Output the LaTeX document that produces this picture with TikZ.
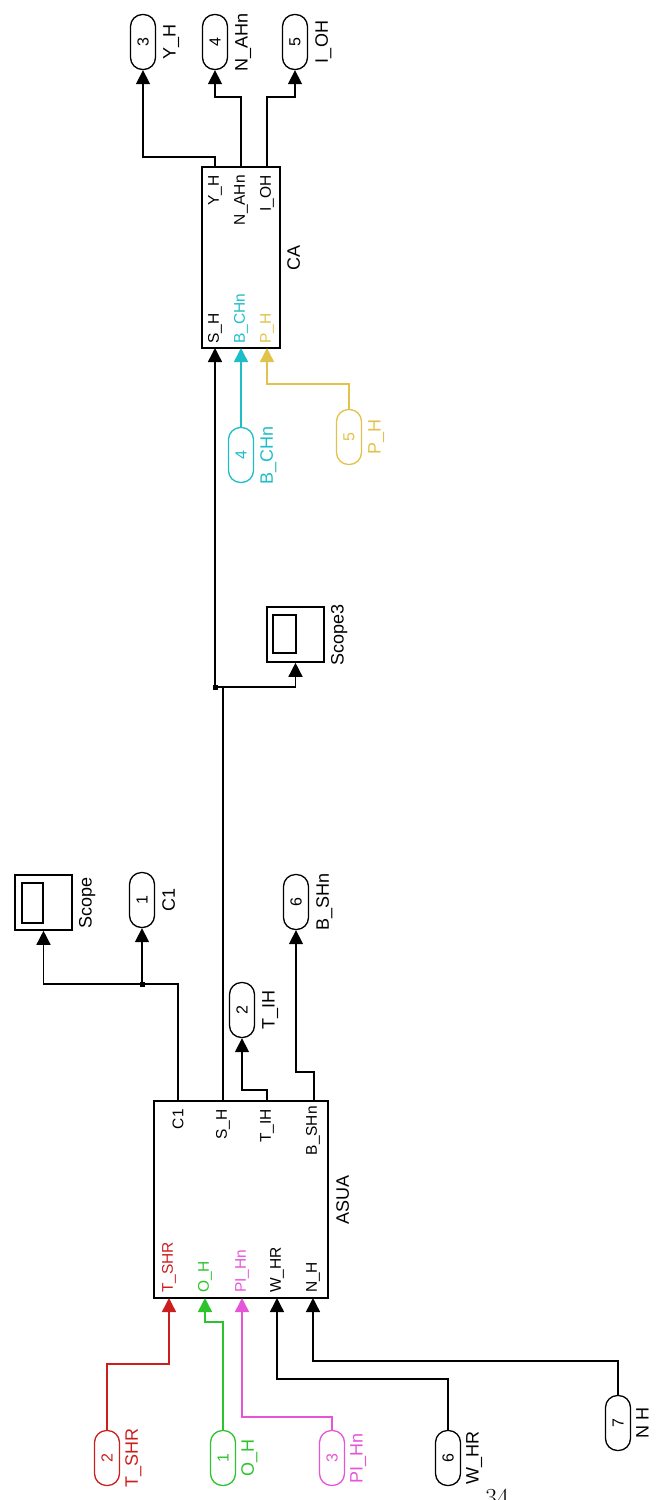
\documentclass[tikz,border=0pt]{standalone}
\usepackage{fontspec}
\newfontfamily\arial{Liberation Sans}
\usetikzlibrary{arrows.meta}
\definecolor{cred}{RGB}{205,30,30}
\definecolor{cgreen}{RGB}{45,195,45}
\definecolor{cmag}{RGB}{230,85,215}
\definecolor{ccyan}{RGB}{30,190,200}
\definecolor{cyel}{RGB}{225,195,75}
\begin{document}
\begin{tikzpicture}[x=1pt,y=-1pt,
  port/.style={draw, line width=1.3pt, rounded corners=12pt, minimum width=25pt, minimum height=55pt, inner sep=0pt, font=\arial\fontsize{16}{16}\selectfont},
  wire/.style={line width=1.5pt, -{Triangle[length=14pt,width=14pt]}},
  plain/.style={line width=1.5pt},
  lbl/.style={inner sep=0pt, anchor=west, font=\arial\fontsize{18}{18}\selectfont},
  plbl/.style={inner sep=0pt, font=\arial\fontsize{15.5}{15.5}\selectfont},
  blk/.style={draw, line width=1.6pt, inner sep=0pt},
  jdot/.style={fill, inner sep=0pt, minimum size=5pt}]
\useasboundingbox (0,0) rectangle (662,1500);

% ---------- top outports ----------
\node[port] (oYH) at (143,42) {\rotatebox{90}{3}};
\node[lbl] at ([xshift=7pt]oYH.east) {\rotatebox{90}{Y\_H}};
\node[port] (oNAHn) at (215,42) {\rotatebox{90}{4}};
\node[lbl] at ([xshift=7pt]oNAHn.east) {\rotatebox{90}{N\_AHn}};
\node[port] (oIOH) at (295,42) {\rotatebox{90}{5}};
\node[lbl] at ([xshift=7pt]oIOH.east) {\rotatebox{90}{I\_OH}};

% ---------- CA block ----------
\node[blk, minimum width=78pt, minimum height=181pt] (CA) at (241,257.5) {};
\node[lbl] at (287,257.5) {\rotatebox{90}{CA}};
\coordinate (CAo1) at (215,167);
\coordinate (CAo2) at (241,167);
\coordinate (CAo3) at (267,167);
\coordinate (CAi1) at (215,348);
\coordinate (CAi2) at (241,348);
\coordinate (CAi3) at (267,348);
\node[plbl, anchor=north] at (215,175) {\rotatebox{90}{Y\_H}};
\node[plbl, anchor=north] at (241,175) {\rotatebox{90}{N\_AHn}};
\node[plbl, anchor=north] at (267,175) {\rotatebox{90}{I\_OH}};
\node[plbl, anchor=south] at (215,344) {\rotatebox{90}{S\_H}};
\node[plbl, anchor=south, text=ccyan] at (241,344) {\rotatebox{90}{B\_CHn}};
\node[plbl, anchor=south, text=cyel] at (267,344) {\rotatebox{90}{P\_H}};

\draw[wire] (CAo1) -- ++(0,-10) -| (oYH.south);
\draw[wire] (CAo2) -- ++(0,-70) -| (oNAHn.south);
\draw[wire] (CAo3) -- ++(0,-70) -| (oIOH.south);

% ---------- CA inputs ----------
\node[port, draw=ccyan, text=ccyan] (iBCHn) at (241,455) {\rotatebox{90}{4}};
\node[lbl, text=ccyan] at ([xshift=6pt]iBCHn.east) {\rotatebox{90}{B\_CHn}};
\node[port, draw=cyel, text=cyel] (iPH) at (349,437) {\rotatebox{90}{5}};
\node[lbl, text=cyel] at ([xshift=6pt]iPH.east) {\rotatebox{90}{P\_H}};
\draw[wire, ccyan] (iBCHn.north) -- (CAi2);
\draw[wire, cyel] (iPH.north) -- ++(0,-25) -| (CAi3);

% ---------- Scope3 ----------
\node[blk, minimum width=57pt, minimum height=55pt] (sc3) at (295.5,634.5) {};
\draw[line width=1.3pt] (273,615) rectangle (296,653);
\node[lbl] at ([xshift=6pt]sc3.east) {\rotatebox{90}{Scope3}};

% ---------- ASUA block ----------
\node[blk, minimum width=174pt, minimum height=197pt] (ASUA) at (241,1199.5) {};
\node[lbl] at (336,1199.5) {\rotatebox{90}{ASUA}};
\coordinate (ASo1) at (178,1101);
\coordinate (ASo2) at (223,1101);
\coordinate (ASo3) at (267,1101);
\coordinate (ASo4) at (314,1101);
\coordinate (ASi1) at (169,1298);
\coordinate (ASi2) at (205,1298);
\coordinate (ASi3) at (242,1298);
\coordinate (ASi4) at (277,1298);
\coordinate (ASi5) at (313,1298);
\node[plbl, anchor=north] at (178,1109) {\rotatebox{90}{C1}};
\node[plbl, anchor=north] at (223,1109) {\rotatebox{90}{S\_H}};
\node[plbl, anchor=north] at (267,1109) {\rotatebox{90}{T\_IH}};
\node[plbl, anchor=north] at (313,1106) {\rotatebox{90}{B\_SHn}};
\node[plbl, anchor=south, text=cred] at (169,1293) {\rotatebox{90}{T\_SHR}};
\node[plbl, anchor=south, text=cgreen] at (205,1293) {\rotatebox{90}{O\_H}};
\node[plbl, anchor=south, text=cmag] at (242,1293) {\rotatebox{90}{PI\_Hn}};
\node[plbl, anchor=south] at (277,1293) {\rotatebox{90}{W\_HR}};
\node[plbl, anchor=south] at (313,1293) {\rotatebox{90}{N\_H}};

% ---------- S_H line with junction ----------
\coordinate (J1) at (215,687);
\draw[plain] (ASo2) |- (J1);
\draw[wire] (J1) -- (CAi1);
\draw[wire] (J1) -| (sc3.south);
\node[jdot] at (J1) {};

% ---------- Scope, C1 ----------
\node[blk, minimum width=57pt, minimum height=55pt] (sc) at (43.5,902.5) {};
\draw[line width=1.3pt] (22,883) rectangle (43,923);
\node[lbl] at ([xshift=6pt]sc.east) {\rotatebox{90}{Scope}};
\node[port] (oC1) at (142,900) {\rotatebox{90}{1}};
\node[lbl] at ([xshift=7pt]oC1.east) {\rotatebox{90}{C1}};
\coordinate (J2) at (142,984);
\draw[wire] (ASo1) |- (J2) -| (sc.south);
\draw[wire] (J2) -- (oC1.south);
\node[jdot] at (J2) {};

% ---------- T_IH, B_SHn ----------
\node[port] (oTIH) at (242,1010) {\rotatebox{90}{2}};
\node[lbl] at ([xshift=7pt]oTIH.east) {\rotatebox{90}{T\_IH}};
\node[port] (oBSHn) at (296,902) {\rotatebox{90}{6}};
\node[lbl] at ([xshift=7pt]oBSHn.east) {\rotatebox{90}{B\_SHn}};
\draw[wire] (ASo3) -- ++(0,-11) -| (oTIH.south);
\draw[wire] (ASo4) -- ++(0,-29) -| (oBSHn.south);

% ---------- ASUA inputs ----------
\node[port, draw=cred, text=cred] (iTSHR) at (107,1458) {\rotatebox{90}{2}};
\node[lbl, text=cred] at ([xshift=5pt]iTSHR.east) {\rotatebox{90}{T\_SHR}};
\node[port, draw=cgreen, text=cgreen] (iOH) at (223,1458) {\rotatebox{90}{1}};
\node[lbl, text=cgreen] at ([xshift=5pt]iOH.east) {\rotatebox{90}{O\_H}};
\node[port, draw=cmag, text=cmag] (iPIHn) at (332,1458) {\rotatebox{90}{3}};
\node[lbl, text=cmag] at ([xshift=5pt]iPIHn.east) {\rotatebox{90}{PI\_Hn}};
\node[port] (iWHR) at (448,1458) {\rotatebox{90}{6}};
\node[lbl] at ([xshift=5pt]iWHR.east) {\rotatebox{90}{W\_HR}};
\node[port] (iNH) at (618,1423) {\rotatebox{90}{7}};
\node[lbl] at ([xshift=5pt]iNH.east) {\rotatebox{90}{N H}};

\draw[wire, cred] (iTSHR.north) -- ++(0,-66) -| (ASi1);
\draw[wire, cgreen] (iOH.north) -- ++(0,-108) -| (ASi2);
\draw[wire, cmag] (iPIHn.north) -- ++(0,-13) -| (ASi3);
\draw[wire] (iWHR.north) -- ++(0,-51) -| (ASi4);
\draw[wire] (iNH.north) -- ++(0,-34) -| (ASi5);

% ---------- page number ----------
\node[inner sep=0pt, anchor=north, font=\fontsize{26}{26}\selectfont] (pg) at (497,1489) {34};
\end{tikzpicture}
\end{document}
